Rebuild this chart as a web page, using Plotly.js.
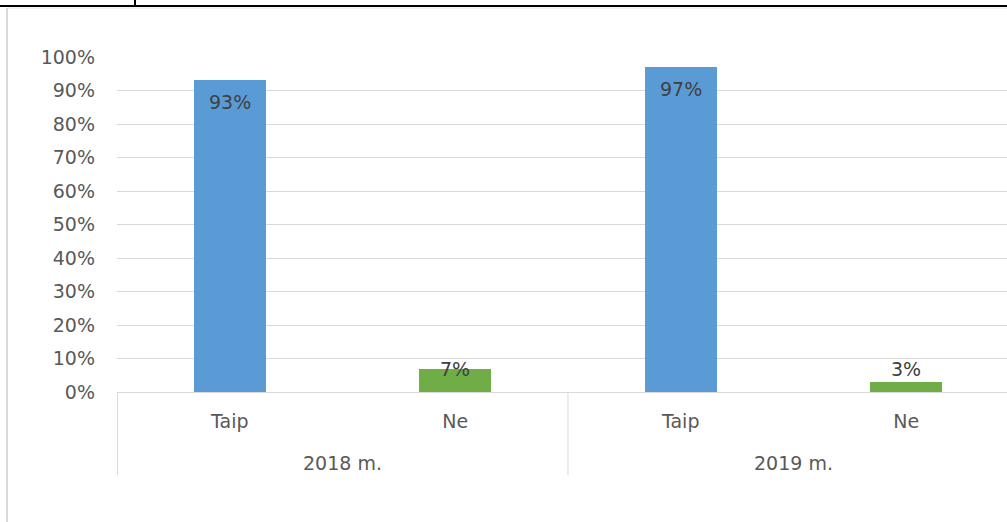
<!DOCTYPE html>
<html>
<head>
<meta charset="utf-8">
<script src="https://cdn.plot.ly/plotly-3.0.1.min.js"></script>
<style>html,body{margin:0;padding:0;background:#fff;}#chart{width:1007px;height:522px;}</style>
</head>
<body>
<div id="chart"></div>
<script>
const groups = ['2018 m.', '2019 m.'];
const years = ['2018 m.', '2018 m.', '2019 m.', '2019 m.'];
const answers = ['Taip', 'Ne', 'Taip', 'Ne'];
const values = [93, 7, 97, 3];
const labels = ['93%', '7%', '97%', '3%'];
const barColors = ['#5B9BD5', '#70AD47', '#5B9BD5', '#70AD47'];
const yTickVals = [0, 10, 20, 30, 40, 50, 60, 70, 80, 90, 100];
const yTickText = ['0%', '10%', '20%', '30%', '40%', '50%', '60%', '70%', '80%', '90%', '100%'];

const font = 'DejaVu Sans, sans-serif';
const FS = 19;

const keys = years.map((y, i) => y + ' | ' + answers[i]);

const trace = {
  type: 'bar',
  x: keys,
  y: values,
  width: 0.32,
  marker: {color: barColors},
  hoverinfo: 'none'
};

const annotations = values.map((v, i) => {
  const big = v > 50;
  return {
    x: keys[i], xref: 'x', y: v, yref: 'y',
    text: labels[i], showarrow: false,
    yanchor: big ? 'top' : (v > 5 ? 'middle' : 'bottom'),
    yshift: big ? -9 : (v > 5 ? 0 : 0),
    font: {family: font, size: FS, color: '#404040'}
  };
});

groups.forEach((g, gi) => {
  annotations.push({
    x: gi * 2 + 0.5, xref: 'x', y: -0.212, yref: 'paper',
    text: g, showarrow: false, yanchor: 'middle',
    font: {family: font, size: FS, color: '#595959'}
  });
});

const shapes = [
  // outer frame decorations
  {type: 'line', xref: 'paper', yref: 'paper', x0: -0.14, x1: 1.02, y0: 1.152, y1: 1.152, line: {color: '#000', width: 2}},
  {type: 'line', xref: 'paper', yref: 'paper', x0: 0.0202, x1: 0.0202, y0: 1.152, y1: 1.2, line: {color: '#000', width: 2}},
  {type: 'line', xref: 'paper', yref: 'paper', x0: -0.1236, x1: -0.1236, y0: 1.146, y1: -0.4, line: {color: '#D9D9D9', width: 2}},
  {type: 'line', xref: 'paper', yref: 'paper', x0: -0.1236, x1: 1.02, y0: 1.146, y1: 1.146, line: {color: '#E6E6E6', width: 1}},
  // group dividers
  {type: 'line', xref: 'paper', yref: 'paper', x0: 0.0006, x1: 0.0006, y0: 0, y1: -0.248, line: {color: '#D9D9D9', width: 1}}
];
for (let gi = 1; gi < groups.length; gi++) {
  shapes.push({type: 'line', xref: 'x', yref: 'paper', x0: gi * 2 - 0.5, x1: gi * 2 - 0.5, y0: 0, y1: -0.248, line: {color: '#D9D9D9', width: 1}});
}

const layout = {
  width: 1007, height: 522,
  margin: {l: 117, r: 0, t: 57, b: 130},
  paper_bgcolor: '#fff', plot_bgcolor: '#fff',
  showlegend: false,
  font: {family: font, size: FS, color: '#595959'},
  xaxis: {
    type: 'category',
    range: [-0.5, 3.447],
    tickvals: keys,
    ticktext: answers,
    showgrid: false,
    showline: false,
    zeroline: false,
    ticks: '',
    ticklabelstandoff: 16,
    tickfont: {family: font, size: FS, color: '#595959'},
    fixedrange: true
  },
  yaxis: {
    range: [0, 100],
    tickvals: yTickVals,
    ticktext: yTickText,
    showgrid: true, gridcolor: '#D9D9D9', gridwidth: 1,
    zeroline: true, zerolinecolor: '#D9D9D9', zerolinewidth: 1,
    showline: false, ticks: '',
    ticklabelstandoff: 21,
    tickfont: {family: font, size: FS, color: '#595959'},
    fixedrange: true
  },
  annotations: annotations,
  shapes: shapes,
  bargap: 0
};

Plotly.newPlot('chart', [trace], layout, {displayModeBar: false, staticPlot: true});
</script>
</body>
</html>
